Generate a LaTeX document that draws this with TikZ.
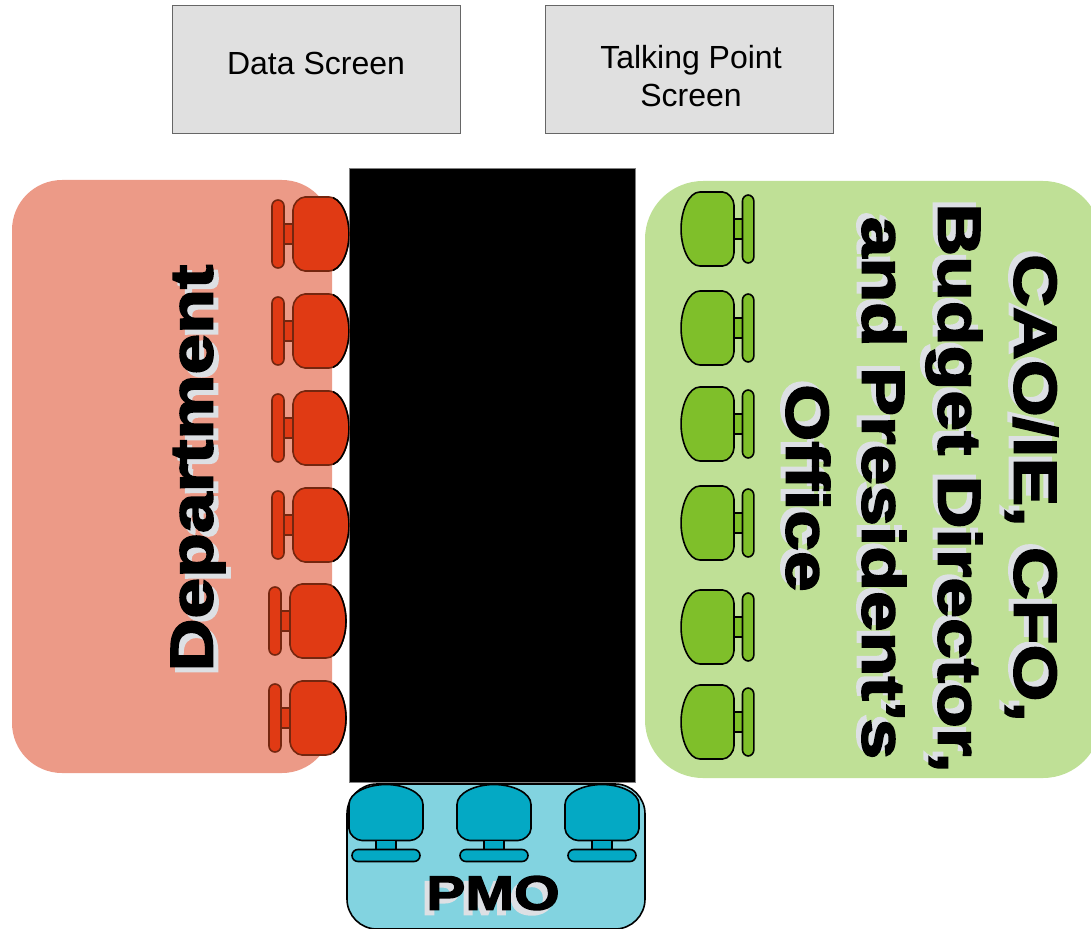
\documentclass[tikz,border=0pt]{standalone}
\usepackage{fontspec}
\setmainfont{Liberation Sans}
\newfontface\bigface{Liberation Sans Bold}[FakeStretch=1.22,FakeBold=3]
\definecolor{deptzone}{HTML}{EC9A87}
\definecolor{deptseat}{HTML}{E03A14}
\definecolor{deptline}{HTML}{74260F}
\definecolor{execzone}{HTML}{BFE096}
\definecolor{execseat}{HTML}{7FBF2A}
\definecolor{pmozone}{HTML}{82D3E0}
\definecolor{pmoseat}{HTML}{04A9C4}
\definecolor{screenfill}{HTML}{E0E0E0}
\definecolor{shadowtext}{HTML}{DDE0E4}
\tikzset{
    screen/.style={
           draw=black!60, thick,
           fill=screenfill,
           minimum width=288pt,
           minimum height=128pt,
           inner sep=0pt,
           },
}
\tikzset{
    screenlabel/.style={
           inner sep=0pt,
           align=center,
           font=\fontsize{32}{38}\selectfont,
           },
}
\tikzset{
    zone/.style={
           rectangle,
           inner sep=0pt,
           },
}
\tikzset{
    biglabel/.style={
           inner sep=0pt,
           align=center,
           font=\fontsize{60}{76}\bigface\selectfont,
           },
}
\tikzset{
    pmotext/.style={
           inner sep=0pt,
           font=\fontsize{48}{56}\bigface\selectfont,
           },
}
\tikzset{
    chair/.pic={
           \path[draw=#1,line width=1.6pt,fill=\seatcolor,line join=round]
               (-37,-8) .. controls (-37,-20) and (-18,-28) .. (0,-28)
               .. controls (18,-28) and (37,-20) .. (37,-8) -- (37,16)
               .. controls (37,22) and (30,28) .. (24,28) -- (-24,28)
               .. controls (-30,28) and (-37,22) .. (-37,16) -- cycle;
           \path[draw=#1,line width=1.6pt,fill=\seatcolor] (-10,28) rectangle (10,37);
           \path[draw=#1,line width=1.6pt,fill=\seatcolor,rounded corners=6pt] (-34,37) rectangle (34,49);
           },
}
\begin{document}
\begin{tikzpicture}[x=1pt,y=-1pt]
\useasboundingbox (0,0) rectangle (1091,928);
% screens
\node[screen](data) at (316,69){};
\node[screen](talking) at (689,69){};
\node[screenlabel](datalabel) at (316,63){Data Screen};
\node[screenlabel](talkinglabel) at (691,76){Talking Point\\Screen};
% zones
\node[zone,fill=deptzone,minimum width=320pt,minimum height=593pt,rounded corners=50pt](dept) at (172,476.5){};
\node[zone,fill=execzone,minimum width=456pt,minimum height=597pt,rounded corners=58pt](exec) at (873,479.5){};
\node[zone,draw=black,line width=1.6pt,fill=pmozone,minimum width=298pt,minimum height=145pt,rounded corners=30pt](pmo) at (496,856.5){};
% table
\node[zone,draw=black!50,thick,fill=black,minimum width=286pt,minimum height=614pt](table) at (492,475){};
% chairs
\def\seatcolor{deptseat}
\foreach \px/\py in {321/234,321/331,321/428,321/525,318/621,318/718}
    \pic[rotate=-90] at (\px,\py) {chair=deptline};
\begin{scope}
\clip (333,170) rectangle (349,780);
\foreach \px/\py in {321/234,321/331,321/428,321/525,318/621,318/718}
    \pic[rotate=-90] at (\px,\py) {chair=black};
\end{scope}
\def\seatcolor{execseat}
\foreach \py in {229,328,424,523,627,722}
    \pic[rotate=90,yscale=0.945] at (707.5,\py) {chair=black};
\def\seatcolor{pmoseat}
\foreach \px in {386,494,602}
    \pic at (\px,812.5) {chair=black};
% labels
\node[biglabel,text=shadowtext,rotate=90](deptshadow) at (203,473){Department};
\node[biglabel,rotate=90](deptlabel) at (198,468){Department};
\node[biglabel,text=shadowtext,rotate=-90](execshadow) at (917,483){CAO/IE, CFO,\\Budget Director,\\and President’s\\Office};
\node[biglabel,rotate=-90](execlabel) at (922,488){CAO/IE, CFO,\\Budget Director,\\and President’s\\Office};
\node[pmotext,text=shadowtext](pmoshadow) at (488,898){PMO};
\node[pmotext](pmolabel) at (493,893){PMO};
\end{tikzpicture}
\end{document}
